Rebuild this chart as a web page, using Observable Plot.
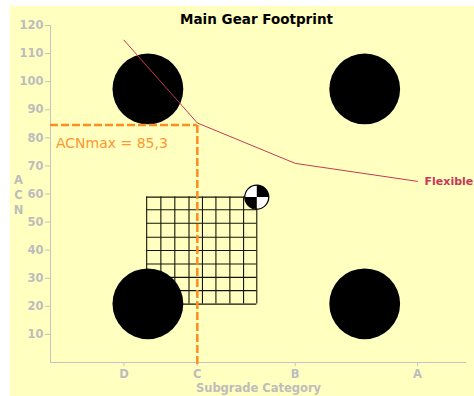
<!DOCTYPE html>
<html>
<head>
<meta charset="utf-8">
<script src="https://cdn.jsdelivr.net/npm/d3@7"></script>
<script src="https://cdn.jsdelivr.net/npm/@observablehq/plot@0.6"></script>
<style>
  html, body { margin: 0; padding: 0; background: #ffffff; }
  #wrap { position: relative; width: 474px; height: 396px; background: #ffffff; overflow: hidden; }
  #panel { position: absolute; left: 10px; top: 6px; right: 0; bottom: 0; background: #FFFFC0; }
  #chart { position: absolute; left: 0; top: 0; }
  g[aria-label="acnmax"] { filter: drop-shadow(1px 1px 1.5px rgba(90, 90, 60, 0.35)); }
</style>
</head>
<body>
<div id="wrap"><div id="panel"></div><div id="chart"></div></div>
<script>
// ---- data ----
const title = "Main Gear Footprint";
const categories = ["D", "C", "B", "A"];          // subgrade category tick labels
const categoryCbr = [3, 6, 10, 15];               // their positions on the x scale
const yTicks = [10, 20, 30, 40, 50, 60, 70, 80, 90, 100, 110, 120];
const xLabel = "Subgrade Category";
const yLabel = "A\nC\nN";

// Flexible pavement ACN curve
const flexibleCbr = [3, 6, 10, 15];
const flexibleAcn = [114.8, 85.3, 70.9, 64.5];
const flexibleLabel = "Flexible";

// ACNmax marker
const acnMax = 85.3;
const acnMaxCategoryCbr = 6;
const acnMaxLabel = "ACNmax = 85,3";

// wheel footprint (four wheels)
const wheelX = [3.98, 12.84, 3.98, 12.84];
const wheelY = [97.4, 97.4, 20.9, 20.9];

// grid of the footprint
const gridX = [3.93, 4.51, 5.08, 5.66, 6.21, 6.76, 7.33, 7.89, 8.43];
const gridY = [58.9, 54.4, 49.6, 44.6, 39.9, 35.1, 30.3, 25.6, 20.8];

// centre-of-gravity symbol
const cgX = [8.43];
const cgY = [58.9];

// ---- styles ----
const axisGray = "#C4C4C4";
const axisText = "#BDBDBD";
const orange = "#FF8C1E";
const orangeText = "#FF9630";
const red = "#C8385A";

const wheels = wheelX.map((x, i) => ({x, y: wheelY[i]}));
const flexible = flexibleCbr.map((x, i) => ({x, y: flexibleAcn[i]}));
const cg = cgX.map((x, i) => ({x, y: cgY[i]}));

const cgQuarters = {
  draw(ctx, size) {
    const r = Math.sqrt(size / Math.PI);
    ctx.moveTo(0, 0);
    ctx.arc(0, 0, r, -Math.PI / 2, 0);
    ctx.closePath();
    ctx.moveTo(0, 0);
    ctx.arc(0, 0, r, Math.PI / 2, Math.PI);
    ctx.closePath();
  }
};

const chart = Plot.plot({
  width: 474,
  height: 396,
  marginLeft: 50,
  marginRight: 8,
  marginTop: 25,
  marginBottom: 34,
  style: {background: "transparent", fontFamily: "'DejaVu Sans', sans-serif", overflow: "visible"},
  x: {domain: [0, 17]},
  y: {domain: [0, 120]},
  marks: [
    // axes
    Plot.ruleX([0], {y1: 0, y2: 120, stroke: axisGray}),
    Plot.ruleY([0], {x1: 0, x2: 17, stroke: axisGray}),
    Plot.axisY(yTicks, {tickSize: 5, tickPadding: 2, stroke: axisGray, fill: axisText, fontWeight: "bold", fontSize: 11.5, label: null}),
    Plot.axisX(categoryCbr, {tickSize: 4, tickPadding: 3, stroke: axisGray, fill: axisText, fontWeight: "bold", fontSize: 11.5, label: null,
      tickFormat: d => categories[categoryCbr.indexOf(d)]}),
    Plot.text([xLabel], {text: d => d, frameAnchor: "bottom", dy: 29, fill: axisText, fontWeight: "bold", fontSize: 11.5}),
    Plot.text([yLabel], {text: d => d, frameAnchor: "left", dx: -32, textAnchor: "middle", lineHeight: 1.3, fill: axisText, fontWeight: "bold", fontSize: 11.5}),
    Plot.text([title], {text: d => d, frameAnchor: "top", dy: -11, dx: -2, fill: "black", fontWeight: "bold", fontSize: 13.5}),

    // footprint grid
    Plot.ruleX(gridX, {y1: gridY[gridY.length - 1], y2: gridY[0], stroke: "#141408", strokeWidth: 1.1}),
    Plot.ruleY(gridY, {x1: gridX[0], x2: gridX[gridX.length - 1], stroke: "#141408", strokeWidth: 1.1}),

    // wheels
    Plot.dot(wheels, {x: "x", y: "y", r: 35.4, fill: "black", stroke: "none"}),

    // CG symbol
    Plot.dot(cg, {x: "x", y: "y", r: 12, fill: "white", stroke: "black", strokeWidth: 1.2}),
    Plot.dot(cg, {x: "x", y: "y", r: 12, symbol: cgQuarters, fill: "black", stroke: "none"}),

    // ACNmax dashed lines
    Plot.ruleY([acnMax], {x1: 0, x2: acnMaxCategoryCbr, dy: 2, stroke: orange, strokeWidth: 2.5, strokeDasharray: "8,3", ariaLabel: "acnmax"}),
    Plot.ruleX([acnMaxCategoryCbr], {y1: 0, y2: acnMax, dy: 2, stroke: orange, strokeWidth: 2.5, strokeDasharray: "8,3", ariaLabel: "acnmax"}),
    Plot.text([acnMaxLabel], {text: d => d, x: 0, y: acnMax, dx: 5.5, dy: 21, textAnchor: "start", fill: orangeText, fontSize: 14}),

    // flexible curve
    Plot.line(flexible, {x: "x", y: "y", stroke: red, strokeWidth: 1}),
    Plot.text([flexibleLabel], {text: d => d, x: flexibleCbr[flexibleCbr.length - 1], y: flexibleAcn[flexibleAcn.length - 1], dx: 7, textAnchor: "start", fill: red, fontWeight: "bold", fontSize: 11})
  ]
});
document.getElementById("chart").appendChild(chart);
</script>
</body>
</html>
